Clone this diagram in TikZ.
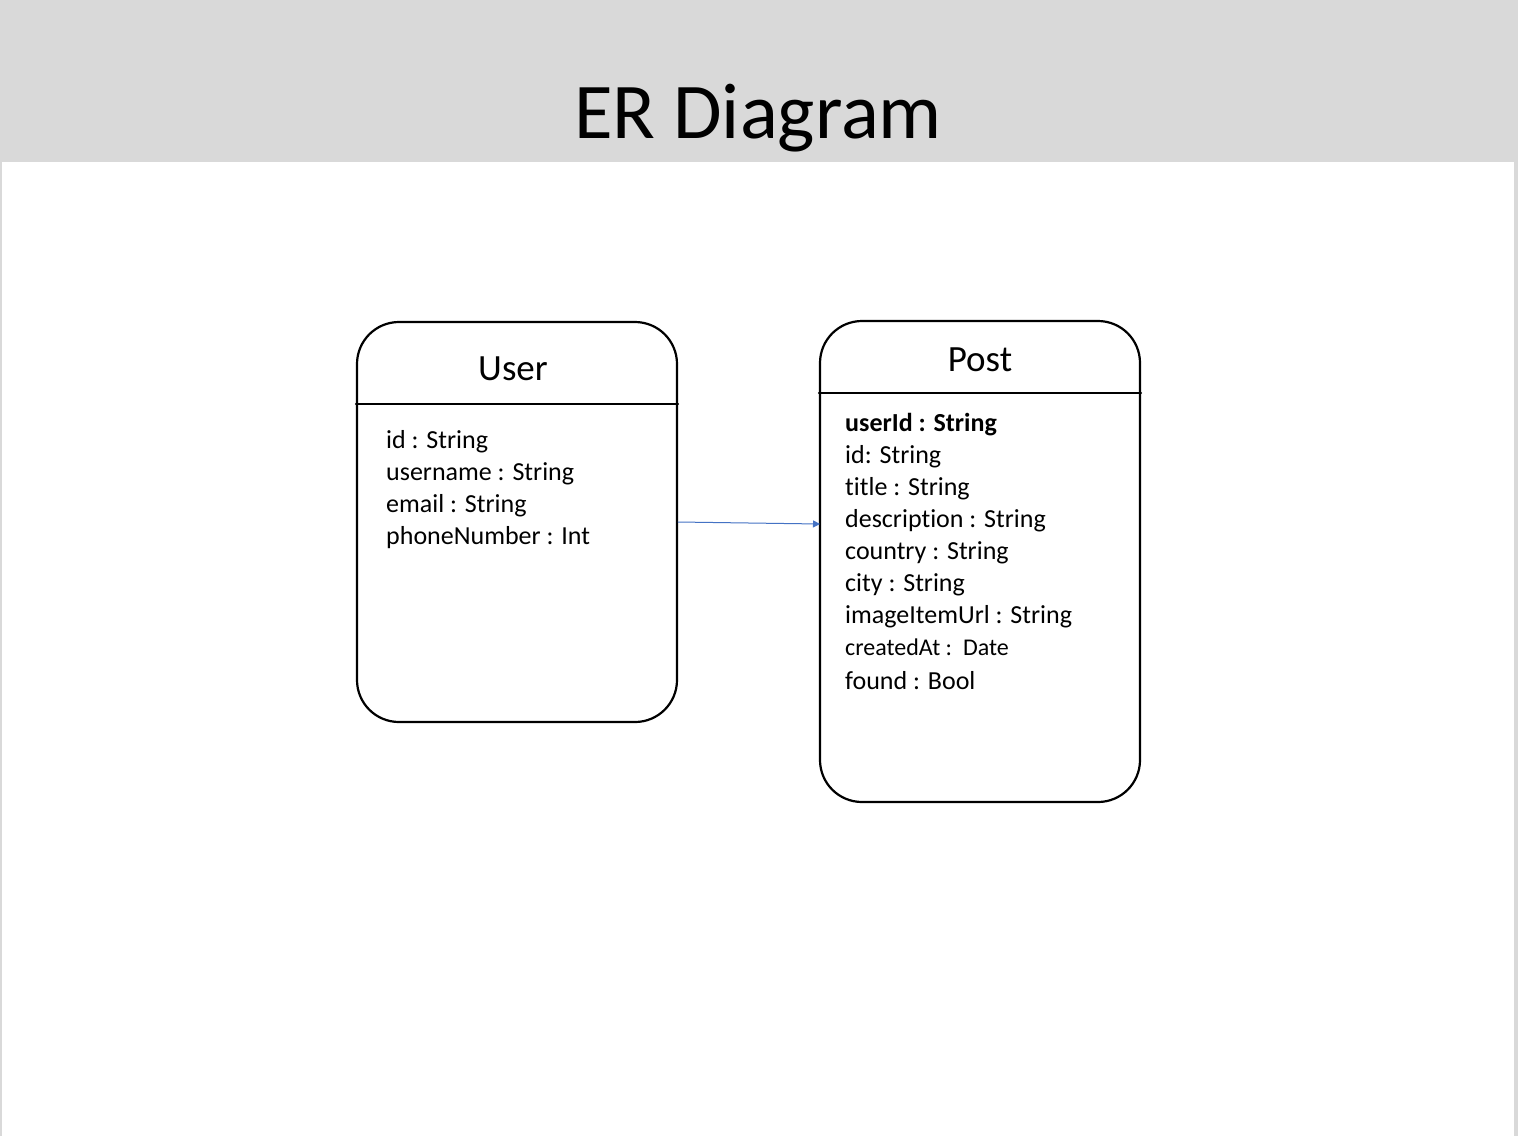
\documentclass[tikz,border=0pt]{standalone}
\usepackage{fontspec}
\setmainfont[Ligatures=NoCommon]{Carlito}
\usetikzlibrary{arrows.meta}
\definecolor{headgray}{HTML}{D9D9D9}
\definecolor{linkblue}{HTML}{4472C4}
\tikzset{
	entity/.style={draw, line width=2.2pt, rounded corners=42pt, minimum width=320pt, inner sep=0pt},
	etitle/.style={font=\fontsize{37}{44}\selectfont, anchor=base},
	attr/.style={font=\fontsize{26}{32}\selectfont, anchor=base west, inner sep=0pt},
}
\begin{document}
\begin{tikzpicture}[x=1pt, y=-1pt, line join=round, line cap=round]
	\useasboundingbox (0,0) rectangle (1518,1136);
	\fill[headgray] (0,0) rectangle (1518,1136);
	\fill[white] (2,162) rectangle (1514,1136);
	\node[font=\fontsize{79}{90}\selectfont, anchor=base] (title) at (758,138) {ER Diagram};
	
	\node[entity, minimum height=400pt] (user) at (517,522) {};
	\node[entity, minimum height=481pt] (post) at (980,561.5) {};
	\path
		(820,524) coordinate (postin)
	;
	
	\draw[line width=2.2pt]
		(user.west |- 0,404) -- (user.east |- 0,404)
		(post.west |- 0,393) -- (post.east |- 0,393)
	;
	\node[etitle] (usertitle) at (513,380) {User};
	\node[etitle] (posttitle) at (980,371) {Post};
	
	\foreach \t [count=\i] in {id : String, username : String, email : String, phoneNumber : Int}{
		\node[attr] (u\i) at (386,{448+32*(\i-1)}) {\t};
	};
	\node[attr, font=\fontsize{26}{32}\selectfont\bfseries] (p1) at (845,431) {userId : String};
	\foreach \t [count=\i from 2] in {id: String, title : String, description : String, country : String, city : String, imageItemUrl : String}{
		\node[attr] (p\i) at (845,{431+32*(\i-1)}) {\t};
	};
	\node[attr, font=\fontsize{24}{30}\selectfont] (p8) at (845,655) {createdAt :\ \ Date};
	\node[attr] (p9) at (845,689) {found : Bool};
	
	\draw[linkblue, line width=1pt, -{Triangle[length=7pt, width=7pt]}] (user.east) -- (postin);
\end{tikzpicture}
\end{document}
